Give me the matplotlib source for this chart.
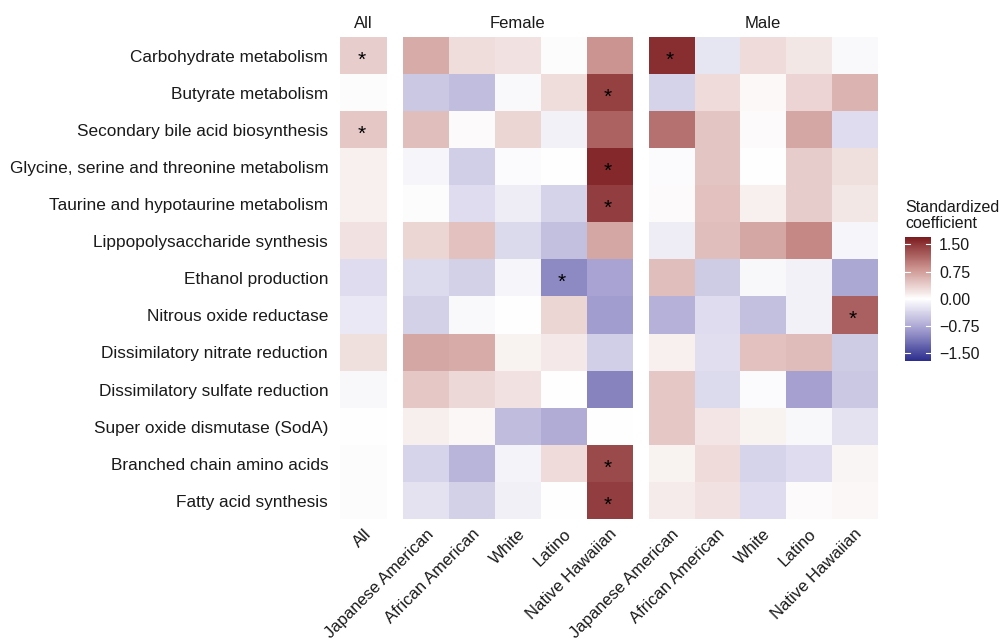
import numpy as np
import matplotlib
matplotlib.use("Agg")
import matplotlib.pyplot as plt
from matplotlib.colors import LinearSegmentedColormap, Normalize

plt.rcParams['font.family'] = ['Liberation Sans', 'DejaVu Sans']

pathways = [
    "Carbohydrate metabolism",
    "Butyrate metabolism",
    "Secondary bile acid biosynthesis",
    "Glycine, serine and threonine metabolism",
    "Taurine and hypotaurine metabolism",
    "Lippopolysaccharide synthesis",
    "Ethanol production",
    "Nitrous oxide reductase",
    "Dissimilatory nitrate reduction",
    "Dissimilatory sulfate reduction",
    "Super oxide dismutase (SodA)",
    "Branched chain amino acids",
    "Fatty acid synthesis",
]
ethnicities = ["Japanese American", "African American", "White", "Latino", "Native Hawaiian"]

all_coef = [0.38, 0.02, 0.42, 0.12, 0.12, 0.22, -0.30, -0.20, 0.25, -0.06, 0.00, -0.02, 0.02]

# rows = pathways, columns = ethnicities
female_coef = [
    [0.65, 0.26, 0.22, -0.02, 0.82],
    [-0.48, -0.57, -0.05, 0.26, 1.42],
    [0.50, 0.04, 0.32, -0.12, 1.18],
    [-0.08, -0.42, -0.04, 0.00, 1.60],
    [0.02, -0.30, -0.15, -0.38, 1.45],
    [0.32, 0.48, -0.33, -0.55, 0.68],
    [-0.32, -0.40, -0.08, -1.00, -0.80],
    [-0.40, -0.05, -0.01, 0.32, -0.85],
    [0.68, 0.65, 0.10, 0.17, -0.42],
    [0.42, 0.30, 0.22, 0.01, -1.05],
    [0.13, 0.06, -0.58, -0.72, 0.00],
    [-0.37, -0.65, -0.10, 0.28, 1.35],
    [-0.25, -0.40, -0.13, -0.01, 1.45],
]
male_coef = [
    [1.55, -0.22, 0.28, 0.18, -0.05],
    [-0.38, 0.28, 0.05, 0.33, 0.58],
    [1.08, 0.45, 0.04, 0.68, -0.30],
    [-0.03, 0.45, 0.00, 0.40, 0.25],
    [0.03, 0.48, 0.12, 0.40, 0.18],
    [-0.15, 0.50, 0.68, 0.92, -0.07],
    [0.50, -0.45, -0.06, -0.12, -0.75],
    [-0.68, -0.30, -0.56, -0.12, 1.20],
    [0.12, -0.28, 0.48, 0.52, -0.45],
    [0.42, -0.32, -0.03, -0.82, -0.47],
    [0.42, 0.20, 0.10, -0.06, -0.25],
    [0.10, 0.28, -0.37, -0.30, 0.07],
    [0.16, 0.22, -0.30, 0.04, 0.06],
]

signif_all = ["Carbohydrate metabolism", "Secondary bile acid biosynthesis"]
signif_female = [
    ("Butyrate metabolism", "Native Hawaiian"),
    ("Glycine, serine and threonine metabolism", "Native Hawaiian"),
    ("Taurine and hypotaurine metabolism", "Native Hawaiian"),
    ("Ethanol production", "Latino"),
    ("Branched chain amino acids", "Native Hawaiian"),
    ("Fatty acid synthesis", "Native Hawaiian"),
]
signif_male = [
    ("Carbohydrate metabolism", "Japanese American"),
    ("Nitrous oxide reductase", "Native Hawaiian"),
]

panel_titles = ["All", "Female", "Male"]
cbar_ticks = [-1.5, -0.75, 0.0, 0.75, 1.5]
limit = 1.71

cmap = LinearSegmentedColormap.from_list(
    "div",
    [(0.0, "#2B2D8D"), (0.25, "#A29DCF"), (0.5, "#FFFFFF"), (0.75, "#CB918D"), (1.0, "#7B1A1E")],
)
norm = Normalize(vmin=-limit, vmax=limit)
txt_color = "#1a1a1a"

fig = plt.figure(figsize=(9.99, 6.39), dpi=100)
W, H = 999, 639
bottom_px, top_px = 519.3, 37.3
def ax_rect(x0, x1):
    return [x0 / W, 1 - bottom_px / H, (x1 - x0) / W, (bottom_px - top_px) / H]

ax_all = fig.add_axes(ax_rect(340.0, 386.7))
ax_f = fig.add_axes(ax_rect(402.7, 632.0))
ax_m = fig.add_axes(ax_rect(648.7, 877.3))

panels = [
    (ax_all, np.array(all_coef)[:, None], ["All"], [(p, "All") for p in signif_all]),
    (ax_f, np.array(female_coef), ethnicities, signif_female),
    (ax_m, np.array(male_coef), ethnicities, signif_male),
]

for i, (ax, data, cols, sig) in enumerate(panels):
    ax.imshow(data, cmap=cmap, norm=norm, aspect="auto", interpolation="nearest")
    for s in ax.spines.values():
        s.set_visible(False)
    ax.set_xticks(range(len(cols)))
    ax.set_xticklabels(cols, rotation=45, ha="right", va="top", rotation_mode="anchor",
                       fontsize=12, color=txt_color)
    ax.tick_params(axis="x", length=0, pad=5)
    ax.set_yticks(range(len(pathways)))
    if i == 0:
        ax.set_yticklabels(pathways, fontsize=12.4, color=txt_color)
        ax.tick_params(axis="y", length=0, pad=8.5)
    else:
        ax.set_yticklabels([])
        ax.tick_params(axis="y", length=0)
    ax.set_title(panel_titles[i], fontsize=12, pad=7, color=txt_color)
    for (p, c) in sig:
        r = pathways.index(p)
        cc = cols.index(c)
        ax.text(cc - 0.04, r + 0.12, "*", ha="center", va="center", fontsize=15, color="black")

# colorbar
cax = fig.add_axes([905 / W, 1 - 361 / H, 25.7 / W, 124.3 / H])
sm = matplotlib.cm.ScalarMappable(cmap=cmap, norm=norm)
cb = fig.colorbar(sm, cax=cax, ticks=cbar_ticks)
cb.outline.set_visible(False)
cb.ax.set_yticklabels([f"{t:.2f}".replace("-", "\u2212") for t in cbar_ticks], color=txt_color)
cb.ax.tick_params(length=0, pad=6, labelsize=11.5)
tr = cax.get_yaxis_transform()
for t in cbar_ticks:
    cax.plot([0, 0.2], [t, t], color="white", lw=0.8, transform=tr)
    cax.plot([0.8, 1.0], [t, t], color="white", lw=0.8, transform=tr)
fig.text(905 / W, 1 - 231 / H, "Standardized\ncoefficient", ha="left", va="bottom",
         fontsize=11.5, linespacing=1.05, color=txt_color)

fig.savefig("out.png", dpi=100)
